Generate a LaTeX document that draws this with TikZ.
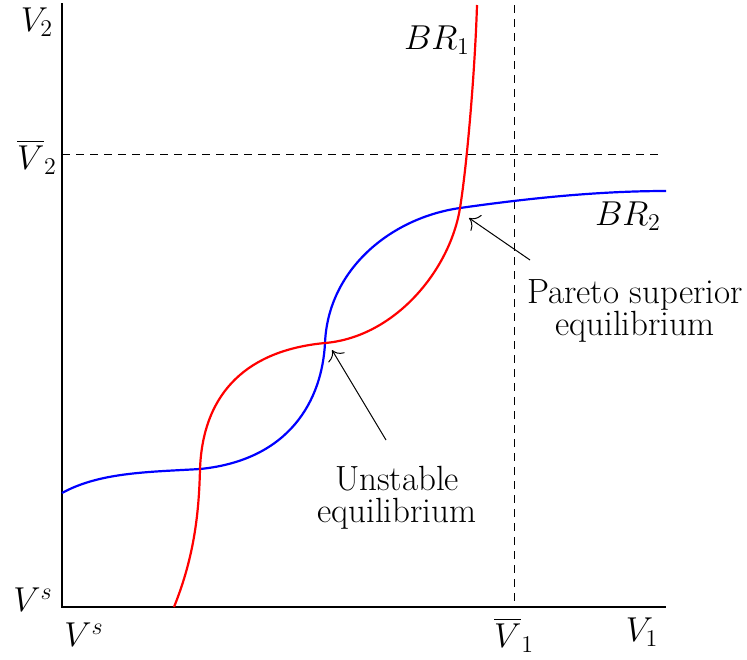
\documentclass[tikz,border=0pt]{standalone}
\usepackage{amsmath}
\usepackage{tikz}
\usetikzlibrary{positioning, arrows.meta, calc}

\begin{document}
\begin{tikzpicture}[
        x=0.5pt, y=-0.5pt,
        font=\fontsize{17.5}{16}\selectfont,
        axis/.style = {line width=1.4pt},
        guide/.style = {dashed, line width=0.5pt, dash pattern=on 4pt off 3pt},
        br1/.style = {red, line width=1.1pt},
        br2/.style = {blue, line width=1.1pt},
        arrow/.style = {-{To[length=1.6mm]}, line width=0.5pt},
        txt/.style = {align=center, inner sep=0pt},
    ]
        \useasboundingbox (0,0) rectangle (747,659);
        % axes and guide lines
        \coordinate (o) at (62,607);
        \coordinate (ytop) at (62,3);
        \coordinate (xend) at (666,607);
        \draw[guide] (62,154) -- (662,154);
        \draw[guide] (514,5) -- (514,607);
        \draw[axis] (ytop) -- (o) -- (xend);
        % best responses
        \draw[br2] (62,493) .. controls (100,472) and (150,472) .. (200,469)
            .. controls (290,460) and (322,400) .. (325,343)
            .. controls (328,270) and (390,218) .. (460,208)
            .. controls (530,198) and (600,191) .. (666,191);
        \draw[br1] (174,607) .. controls (195,555) and (199,510) .. (200,469)
            .. controls (203,390) and (250,350) .. (325,343)
            .. controls (395,337) and (450,270) .. (460,208)
            .. controls (467,165) and (475,70) .. (477,5);
        % labels
        \node[txt] (v2) at (37,22) {$V_2$};
        \node[txt] (v2bar) at (37,157) {$\overline{V}_2$};
        \node[txt] (vsy) at (33,600) {$V^s$};
        \node[txt] (vsx) at (84,635) {$V^s$};
        \node[txt] (v1bar) at (514,635) {$\overline{V}_1$};
        \node[txt] (v1) at (642,632) {$V_1$};
        \node[txt] (lbr1) at (437,40) {$BR_1$};
        \node[txt] (lbr2) at (628,216) {$BR_2$};
        \node[txt] (unst) at (397,498) {Unstable\\equilibrium};
        \node[txt] (pareto) at (635,311) {Pareto superior\\equilibrium};
        \coordinate (eq1) at (332,350);
        \coordinate (eq2) at (469,218);
        \draw[arrow] (386,440) -- (eq1);
        \draw[arrow] (530,260) -- (eq2);
    \end{tikzpicture}
\end{document}
